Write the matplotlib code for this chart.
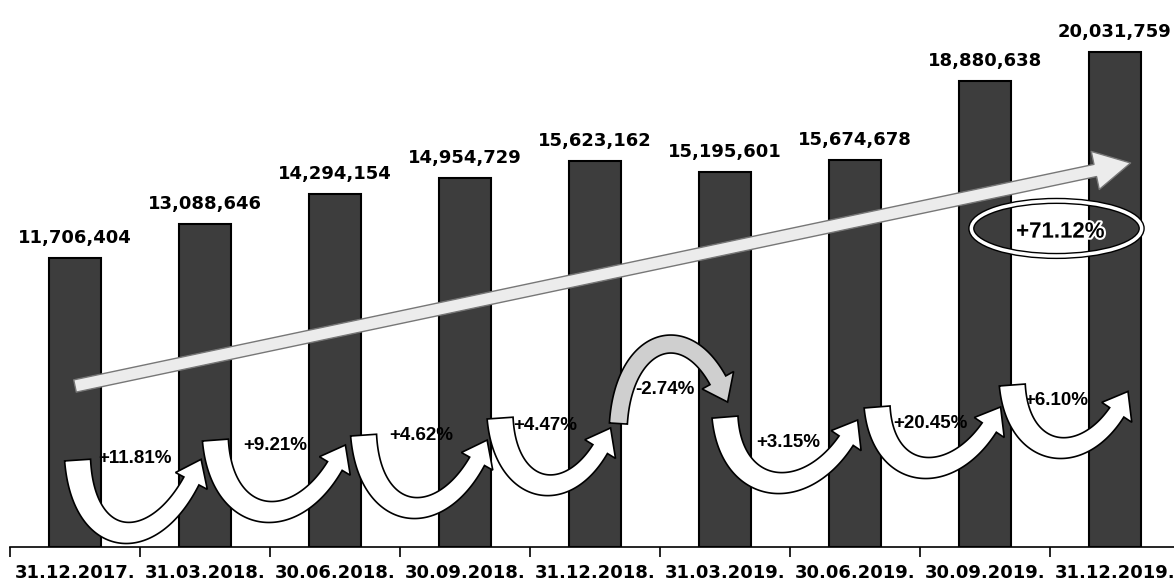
import numpy as np
import matplotlib.pyplot as plt
import matplotlib.patheffects as pe
from matplotlib.patches import FancyArrowPatch, Ellipse, Polygon

# Data
dates = ['31.12.2017.', '31.03.2018.', '30.06.2018.', '30.09.2018.', '31.12.2018.',
         '31.03.2019.', '30.06.2019.', '30.09.2019.', '31.12.2019.']
values = [11706404, 13088646, 14294154, 14954729, 15623162,
          15195601, 15674678, 18880638, 20031759]
changes = ['+11.81%', '+9.21%', '+4.62%', '+4.47%', '-2.74%',
           '+3.15%', '+20.45%', '+6.10%']
total_change = '+71.12%'

# Layout for the curved arrows (x in bar index units, y in millions)
arrow_start = [(0.02, 3.52), (1.08, 4.33), (2.22, 4.53), (3.27, 5.22), (4.18, 5.0),
               (5.00, 5.26), (6.17, 5.67), (7.21, 6.56)]
arrow_end = [(0.97, 3.55), (2.08, 4.13), (3.17, 4.33), (4.12, 4.82), (5.02, 5.87),
             (6.02, 5.14), (7.12, 5.67), (8.10, 6.30)]
arrow_turn = [0.57, 1.42, 1.58, 2.51, 8.18, 2.59, 3.20, 4.01]
label_pos = [(0.46, 3.60), (1.54, 4.13), (2.66, 4.53), (3.62, 4.94), (4.54, 6.36),
             (5.49, 4.25), (6.58, 5.02), (7.55, 5.95)]

M = 1e6


def curved_arrow(ax, start, end, turn, w0=26, w1=17, head_w=36, head_l=24,
                 fc='white'):
    # U-shaped block arrow built in pixel space, then mapped back to data
    T = ax.transData
    p0 = T.transform((start[0], start[1] * M))
    p3 = T.transform((end[0], end[1] * M))
    yt = T.transform((0, turn * M))[1]
    d = ((p0[1] + p3[1]) / 2 - yt) / 0.75
    dx = p3[0] - p0[0]
    p1 = p0 + np.array([0.05 * dx, -d])
    p2 = p3 + np.array([-0.3 * dx, -d])

    t = np.linspace(0, 1, 400)[:, None]
    pts = ((1 - t) ** 3 * p0 + 3 * (1 - t) ** 2 * t * p1
           + 3 * (1 - t) * t ** 2 * p2 + t ** 3 * p3)
    seg = np.r_[0, np.cumsum(np.hypot(*np.diff(pts, axis=0).T))]
    k = np.searchsorted(seg, seg[-1] - head_l)
    body = pts[:k + 1]
    tang = np.gradient(body, axis=0)
    tang /= np.hypot(tang[:, 0], tang[:, 1])[:, None]
    nrm = np.c_[-tang[:, 1], tang[:, 0]]
    w = np.linspace(w0, w1, len(body))[:, None] / 2
    left = body + nrm * w
    right = body - nrm * w
    base = body[-1]
    hn = nrm[-1] * head_w / 2
    poly = np.vstack([left, base + hn, p3, base - hn, right[::-1]])
    poly = T.inverted().transform(poly)
    ax.add_patch(Polygon(poly, closed=True, facecolor=fc, edgecolor='black',
                         linewidth=1.2, zorder=4))


fig = plt.figure(figsize=(11.74, 5.87), dpi=100)
ax = fig.add_axes([10 / 1174, 40 / 587, 1170 / 1174, 547 / 587])

x = list(range(len(values)))
ax.bar(x, values, width=0.4, color='#3d3d3d', edgecolor='black',
       linewidth=1.5, zorder=2)

ax.set_xlim(-0.5, len(values) - 0.5)
ax.set_ylim(0, 22.15 * M)

# value labels above bars
for xi, v in zip(x, values):
    ax.annotate(f'{v:,}', (xi, v), xytext=(0, 8), textcoords='offset points',
                ha='center', va='bottom', fontsize=13, fontweight='bold',
                family='DejaVu Sans')

# big trend arrow
trend = FancyArrowPatch((0, 6.52 * M), (8.12, 15.55 * M),
                        arrowstyle='simple,head_length=26,head_width=28,tail_width=9',
                        mutation_scale=1, shrinkA=0, shrinkB=0,
                        facecolor='#ececec', edgecolor='#777777', linewidth=1, zorder=4)
ax.add_patch(trend)

# curved arrows between quarters
for i, (s, e, turn) in enumerate(zip(arrow_start, arrow_end, arrow_turn)):
    if changes[i].startswith('-'):
        curved_arrow(ax, s, e, turn, w0=18, w1=18, fc='#cfcfcf')
    else:
        curved_arrow(ax, s, e, turn)

# percentage labels sit under the arrows, as in the original
for (lx, ly), txt in zip(label_pos, changes):
    ax.text(lx, ly * M, txt, ha='center', va='center', fontsize=13.5,
            fontweight='bold', family='Liberation Sans', zorder=3)

# total growth ellipse
ax.add_patch(Ellipse((7.55, 12.9 * M), 1.31, 2.23 * M, facecolor='none',
                     edgecolor='black', linewidth=4.5, zorder=5))
ax.add_patch(Ellipse((7.55, 12.9 * M), 1.31, 2.23 * M, facecolor='none',
                     edgecolor='white', linewidth=2.5, zorder=5))
ax.text(7.58, 12.75 * M, total_change, ha='center', va='center', fontsize=16,
        fontweight='bold', family='Liberation Sans', color='black', zorder=6,
        path_effects=[pe.withStroke(linewidth=3, foreground='white')])

for s in ['top', 'right', 'left']:
    ax.spines[s].set_visible(False)
ax.spines['bottom'].set_linewidth(1.2)
ax.set_yticks([])
ax.set_xticks(x)
ax.set_xticklabels(dates, fontsize=13, fontweight='bold', family='DejaVu Sans')
ax.tick_params(axis='x', which='major', length=0, pad=12)
ax.set_xticks([i - 0.5 for i in range(len(values) + 1)], minor=True)
ax.tick_params(axis='x', which='minor', length=7, width=1.2, direction='out')

fig.savefig('out.png', dpi=100)
